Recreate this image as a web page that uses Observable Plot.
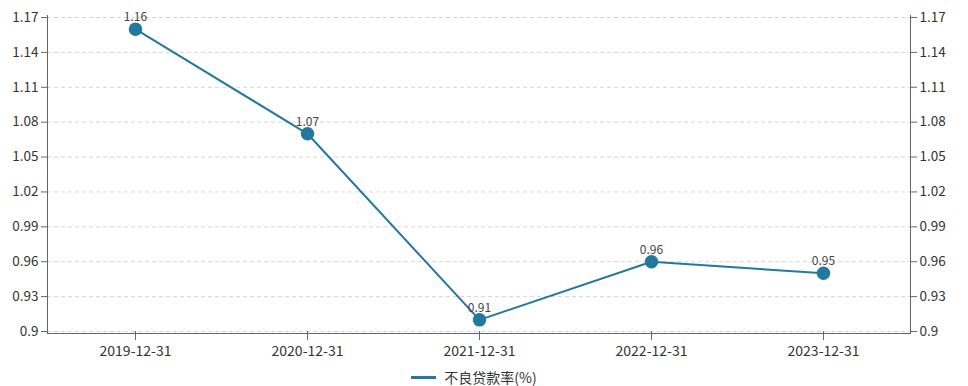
<!DOCTYPE html>
<html>
<head>
<meta charset="utf-8">
<script src="https://cdn.jsdelivr.net/npm/d3@7"></script>
<script src="https://cdn.jsdelivr.net/npm/@observablehq/plot@0.6"></script>
<style>
  html, body { margin: 0; padding: 0; background: #fff; }
  body { width: 968px; height: 386px; overflow: hidden; font-family: "Noto Sans CJK SC", "Noto Sans", sans-serif; }
  #legend { height: 22px; display: flex; justify-content: center; align-items: center; font-size: 14px; color: #333; }
  #legend .sw { display: inline-block; width: 25px; height: 3px; background: #23789e; margin-right: 8px; margin-left: -20px; }
</style>
</head>
<body>
<div id="chart"></div>
<div id="legend"><span class="sw"></span><span>不良贷款率(%)</span></div>
<script>
const dates = ["2019-12-31", "2020-12-31", "2021-12-31", "2022-12-31", "2023-12-31"];
const values = [1.16, 1.07, 0.91, 0.96, 0.95];
const yTicks = [0.9, 0.93, 0.96, 0.99, 1.02, 1.05, 1.08, 1.11, 1.14, 1.17];
const seriesName = "不良贷款率(%)";

const data = dates.map((d, i) => ({date: d, value: values[i]}));
const color = "#23789e";
const fmt = d => String(+d.toFixed(2));

const chart = Plot.plot({
  width: 968,
  height: 366,
  marginTop: 17,
  marginBottom: 35,
  marginLeft: 47,
  marginRight: 58,
  style: {fontFamily: '"Noto Sans CJK SC", "Noto Sans", sans-serif', fontSize: "13px", color: "#333", background: "#fff"},
  x: {type: "point", domain: dates, padding: 0.5},
  y: {domain: [0.9, 1.17]},
  marks: [
    Plot.ruleY(yTicks, {stroke: "#d6d6d6", strokeDasharray: "4,3", strokeWidth: 1}),
    Plot.ruleY([0.9], {stroke: "#666", dy: 2}),
    Plot.axisY({anchor: "left", ticks: yTicks, tickFormat: fmt, tickSize: 6, tickPadding: 3, stroke: "#666", color: "#333", label: null, fontSize: 13.5}),
    Plot.axisY({anchor: "right", ticks: yTicks, tickFormat: fmt, tickSize: 6, tickPadding: 3, stroke: "#666", color: "#333", label: null, fontSize: 13.5}),
    Plot.axisX({tickSize: 9, tickPadding: 6, stroke: "#666", color: "#333", label: null, fontSize: 14}),
    Plot.line(data, {x: "date", y: "value", stroke: color, strokeWidth: 2}),
    Plot.dot(data, {x: "date", y: "value", r: 6, fill: color, stroke: color}),
    Plot.text(data, {x: "date", y: "value", text: d => fmt(d.value), dy: -12, fill: "#444", fontSize: 12})
  ]
});

// vertical axis lines left and right
const svg = d3.select(chart);
svg.append("line").attr("x1", 47.5).attr("x2", 47.5).attr("y1", 15).attr("y2", 334).attr("stroke", "#666");
svg.append("line").attr("x1", 910.5).attr("x2", 910.5).attr("y1", 15).attr("y2", 334).attr("stroke", "#666");

document.getElementById("chart").appendChild(chart);
</script>
</body>
</html>
